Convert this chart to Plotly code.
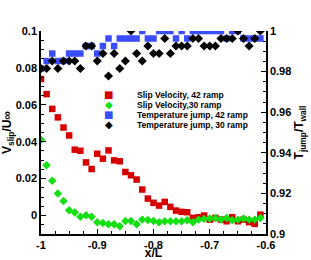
import plotly.graph_objects as go

# x positions (x/L)
x_vals = [-1.00, -0.99, -0.98, -0.97, -0.96, -0.95, -0.94, -0.93, -0.92, -0.91,
          -0.90, -0.89, -0.88, -0.87, -0.86, -0.85, -0.84, -0.83, -0.82, -0.81,
          -0.80, -0.79, -0.78, -0.77, -0.76, -0.75, -0.74, -0.73, -0.72, -0.71,
          -0.70, -0.69, -0.68, -0.67, -0.66, -0.65, -0.64, -0.63, -0.62, -0.61]

slip_42 = [0.0740, 0.0658, 0.0578, 0.0532, 0.0477, 0.0434, 0.0357, 0.0351, 0.0288, 0.0252,
           0.0335, 0.0308, 0.0353, 0.0299, 0.0294, 0.0236, 0.0218, 0.0195, 0.0141, 0.0092,
           0.0069, 0.0054, 0.0074, 0.0047, 0.0027, 0.0020, 0.0018, -0.0013, -0.0009, 0.0000,
           -0.0022, -0.0013, -0.0022, -0.0031, -0.0009, -0.0031, -0.0022, -0.0036, -0.0045, 0.0005]

slip_30 = [0.0411, 0.0272, 0.0189, 0.0119, 0.0079, 0.0029, 0.0016, -0.0007, 0.0002, -0.0007,
           -0.0036, -0.0040, -0.0047, -0.0047, -0.0058, -0.0029, -0.0029, -0.0047, -0.0022, -0.0024,
           -0.0030, -0.0036, -0.0031, -0.0031, -0.0031, -0.0031, -0.0025, -0.0036, -0.0022, -0.0018,
           -0.0016, -0.0013, -0.0022, -0.0013, -0.0025, -0.0022, -0.0016, -0.0022, -0.0022, -0.0013]

tjump_42 = [0.9815, 0.9852, 0.9889, 0.9852, 0.9852, 0.9889, 0.9889, 0.9889, 0.9926, 0.9926,
            0.9889, 0.9926, 0.9963, 0.9926, 0.9963, 0.9963, 0.9963, 0.9963, 1.0000, 0.9963,
            0.9963, 1.0000, 1.0000, 1.0000, 0.9963, 1.0000, 0.9963, 1.0000, 1.0000, 1.0000,
            1.0000, 1.0000, 1.0000, 0.9963, 1.0000, 1.0000, 0.9963, 0.9963, 0.9963, 0.9963]

tjump_30 = [0.9815, 0.9815, 0.9852, 0.9815, 0.9852, 0.9852, 0.9852, 0.9815, 0.9926, 0.9926,
            0.9852, 0.9889, 0.9778, 0.9889, 0.9815, 0.9852, 1.0000, 0.9889, 0.9852, 0.9926,
            0.9889, 0.9889, 0.9963, 0.9889, 0.9926, 0.9926, 0.9926, 0.9963, 0.9963, 0.9926,
            0.9926, 0.9926, 0.9963, 0.9963, 0.9963, 1.0000, 0.9963, 0.9926, 0.9963, 1.0000]

series_names = ["Slip Velocity, 42 ramp", "Slip Velocity,30 ramp",
                "Temperature jump, 42 ramp", "Temperature jump, 30 ramp"]

x_ticks = [-1.0, -0.9, -0.8, -0.7, -0.6]
x_ticklabels = ["-1", "-0.9", "-0.8", "-0.7", "-0.6"]
yl_ticks = [0, 0.02, 0.04, 0.06, 0.08, 0.1]
yl_ticklabels = ["0", "0.02", "0.04", "0.06", "0.08", "0.1"]
yr_ticks = [0.9, 0.92, 0.94, 0.96, 0.98, 1.0]
yr_ticklabels = ["0.9", "0.92", "0.94", "0.96", "0.98", "1"]

RED = "#d60000"
GREEN = "#12e012"
BLUE = "#3a4dff"
BLACK = "#000000"
FONT = "Liberation Sans"

fig = go.Figure()
fig.add_trace(go.Scatter(x=x_vals, y=slip_42, mode="markers", name=series_names[0],
                         marker=dict(symbol="square", size=6.5, color=RED), yaxis="y"))
fig.add_trace(go.Scatter(x=x_vals, y=slip_30, mode="markers", name=series_names[1],
                         marker=dict(symbol="diamond", size=6.5, color=GREEN), yaxis="y"))
fig.add_trace(go.Scatter(x=x_vals, y=tjump_42, mode="markers", name=series_names[2],
                         marker=dict(symbol="square", size=6.5, color=BLUE), yaxis="y2"))
fig.add_trace(go.Scatter(x=x_vals, y=tjump_30, mode="markers", name=series_names[3],
                         marker=dict(symbol="diamond", size=7, color=BLACK), yaxis="y2"))

tickfont = dict(family=FONT, size=11, color="black", weight="bold")
common = dict(showgrid=False, zeroline=False, showline=True, linecolor="black", linewidth=1.5,
              ticks="inside", ticklen=5, tickwidth=1.2, tickcolor="black",
              tickfont=tickfont, automargin=False)

fig.update_layout(
    width=311, height=260,
    margin=dict(l=41, r=45, t=31, b=26),
    paper_bgcolor="white", plot_bgcolor="white",
    showlegend=False,
    xaxis=dict(range=[-1.0, -0.6], tickmode="array", tickvals=x_ticks, ticktext=x_ticklabels,
               title=dict(text="x/L", font=dict(family=FONT, size=12, color="black", weight="bold"),
                          standoff=2),
               minor=dict(dtick=0.025, tick0=-1.0, ticks="inside", ticklen=3, tickcolor="black"),
               **common),
    yaxis=dict(range=[-0.01, 0.1], tickmode="array", tickvals=yl_ticks, ticktext=yl_ticklabels,
               title=dict(text="V<sub>slip</sub>/U∞",
                          font=dict(family=FONT, size=12, color="black", weight="bold"), standoff=3),
               minor=dict(dtick=0.005, tick0=0, ticks="inside", ticklen=3, tickcolor="black"),
               **common),
    yaxis2=dict(range=[0.9, 1.0], overlaying="y", side="right", tickmode="array",
                tickvals=yr_ticks, ticktext=yr_ticklabels,
                title=dict(text="T<sub>jump</sub>/T<sub>wall</sub>",
                           font=dict(family=FONT, size=12, color="black", weight="bold"), standoff=3),
                minor=dict(dtick=0.005, tick0=0.9, ticks="inside", ticklen=3, tickcolor="black"),
                **common),
)

# Legend drawn as text (glyph keys + labels)
legend_glyphs = ["■", "◆", "■", "◆"]
legend_colors = [RED, GREEN, BLUE, BLACK]
legend_top = 0.686
legend_step = 0.049
for i, (g, c, name) in enumerate(zip(legend_glyphs, legend_colors, series_names)):
    yy = legend_top - i * legend_step
    fig.add_annotation(xref="paper", yref="paper", x=0.302, y=yy, text=g, showarrow=False,
                       xanchor="center", yanchor="middle",
                       font=dict(family="DejaVu Sans", size=10, color=c))
    fig.add_annotation(xref="paper", yref="paper", x=0.418, y=yy, text=name, showarrow=False,
                       xanchor="left", yanchor="middle",
                       font=dict(family=FONT, size=8.5, color="black", weight="bold"))

fig.write_html("out.html", config={"displayModeBar": False},
               post_script="document.body.style.margin='0px';document.body.style.padding='0px';")
